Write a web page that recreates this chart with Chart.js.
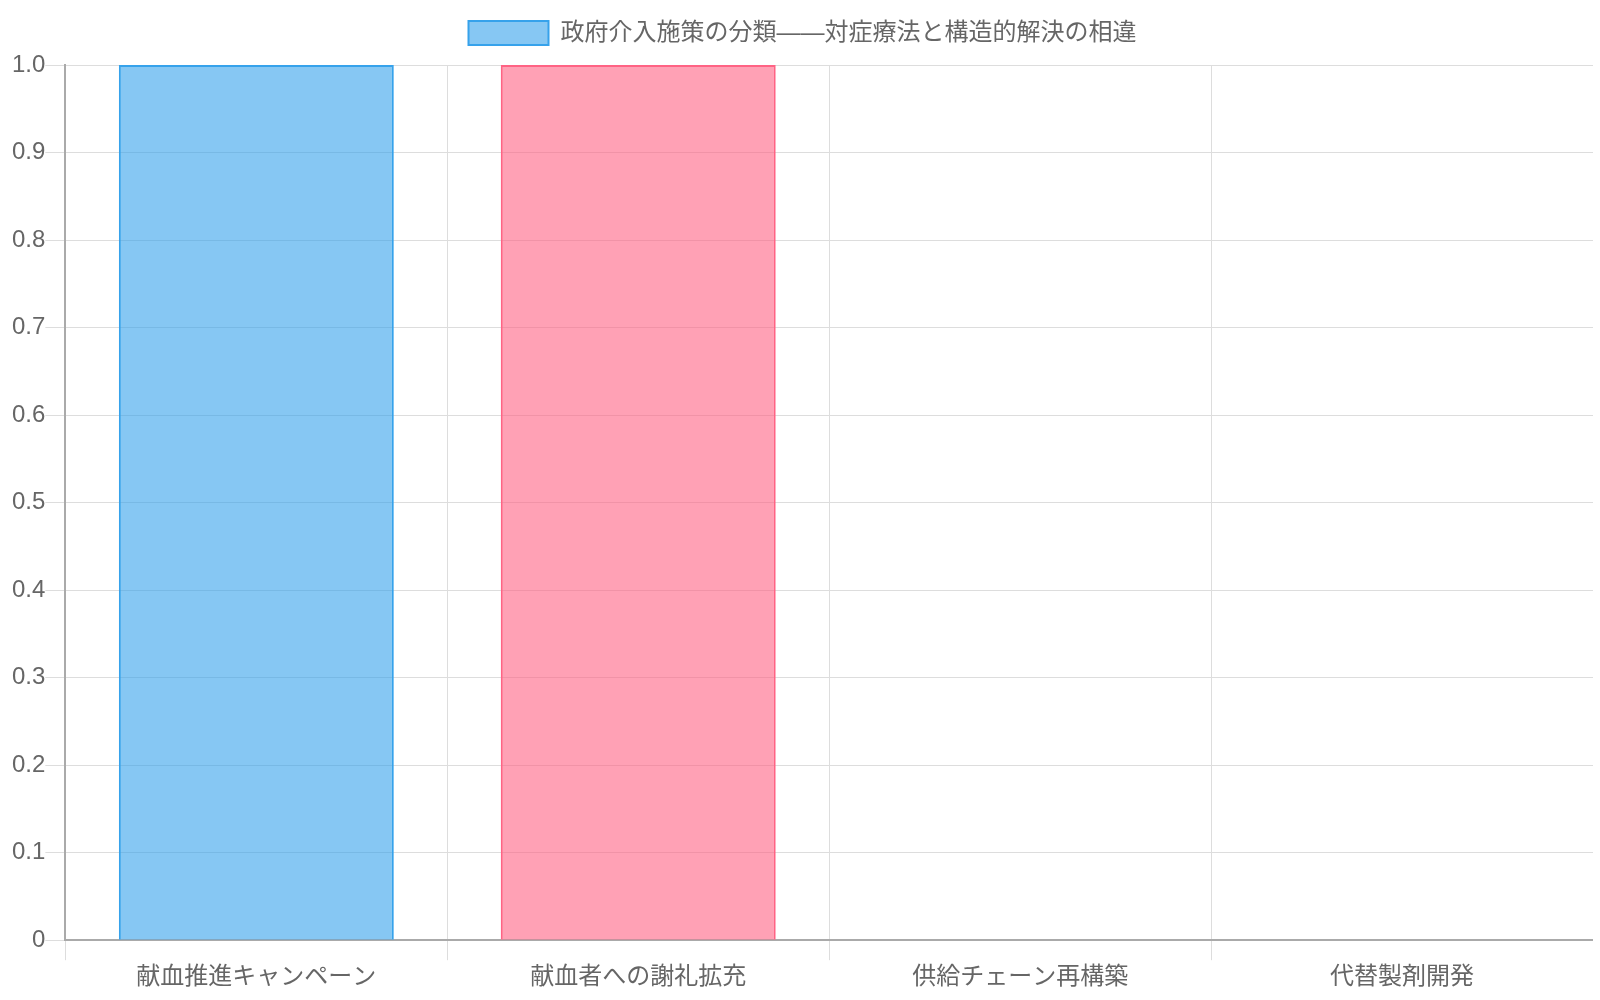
<!DOCTYPE html>
<html>
<head>
<meta charset="utf-8">
<script src="https://cdn.jsdelivr.net/npm/chart.js@4"></script>
<style>
	body { margin: 11px 7px 5px 12px; background: #fff; }
	.chart-container { width: 1581px; height: 984px; }
</style>
</head>
<body>
<div class="chart-container"><canvas id="policyChart"></canvas></div>
<script>
// Chart data
const categories = ['献血推進キャンペーン', '献血者への謝礼拡充', '供給チェーン再構築', '代替製剤開発'];
const seriesLabel = '政府介入施策の分類——対症療法と構造的解決の相違';
const seriesValues = [1, 1, 0, 0];
const yTicks = [0, 0.1, 0.2, 0.3, 0.4, 0.5, 0.6, 0.7, 0.8, 0.9, 1.0];

const colors = [
	'rgba(54, 162, 235, 0.6)',
	'rgba(255, 99, 132, 0.6)',
	'rgba(75, 192, 192, 0.6)',
	'rgba(255, 159, 64, 0.6)',
];
const borderColors = [
	'rgba(54, 162, 235, 1)',
	'rgba(255, 99, 132, 1)',
	'rgba(75, 192, 192, 1)',
	'rgba(255, 159, 64, 1)',
];

Chart.defaults.font.family = '"Liberation Sans", "Noto Sans CJK JP", sans-serif';
Chart.defaults.font.size = 24;
Chart.defaults.color = '#666';

// a bit more room under the legend
const legendGap = {
	id: 'legendGap',
	beforeInit(chart) {
		const fit = chart.legend.fit;
		chart.legend.fit = function () {
			fit.bind(chart.legend)();
			this.height += 10;
		};
	},
};

const ctx = document.getElementById('policyChart').getContext('2d');
new Chart(ctx, {
	type: 'bar',
	data: {
		labels: categories,
		datasets: [
			{
				label: seriesLabel,
				data: seriesValues,
				backgroundColor: colors,
				borderColor: borderColors,
				borderWidth: 2,
			},
		],
	},
	options: {
		responsive: true,
		maintainAspectRatio: false,
		animation: false,
		plugins: {
			legend: {
				labels: { boxWidth: 80, boxHeight: 24 },
			},
		},
		scales: {
			x: {
				grid: { color: '#dddddd', tickLength: 20 },
				border: { color: '#aaa', width: 2 },
			},
			y: {
				min: 0,
				max: 1,
				afterBuildTicks: (axis) => {
					axis.ticks = yTicks.map((v) => ({ value: v }));
				},
				grid: { color: '#dddddd', tickLength: 20 },
				border: { color: '#aaa', width: 2 },
				ticks: {
					padding: 0,
					callback: (v) => (v === 0 ? '0' : v.toFixed(1)),
				},
			},
		},
	},
	plugins: [legendGap],
});
</script>
</body>
</html>
